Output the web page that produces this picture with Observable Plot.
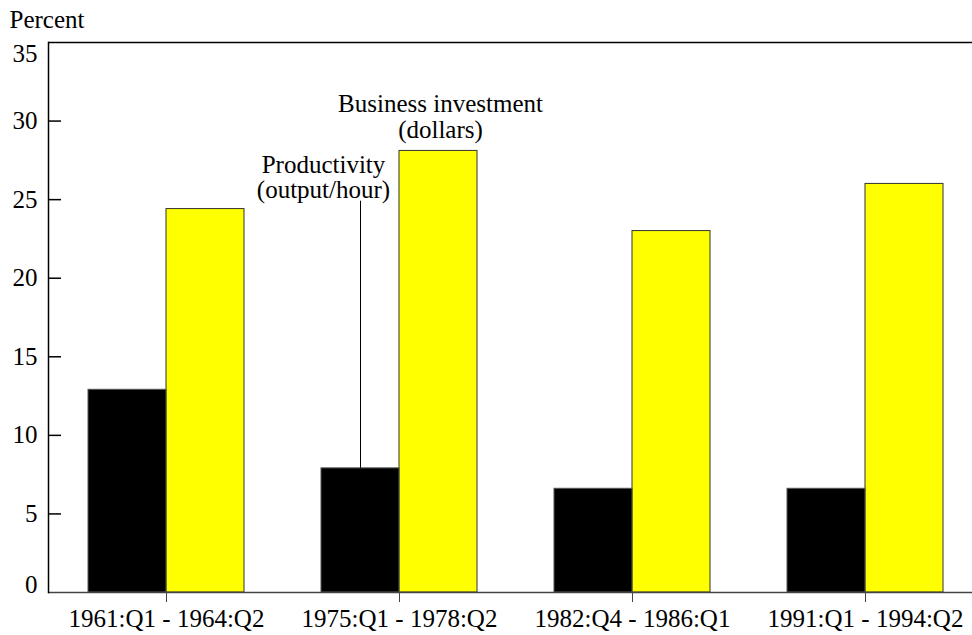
<!DOCTYPE html>
<html>
<head>
<meta charset="utf-8">
<script src="https://cdn.jsdelivr.net/npm/d3@7"></script>
<script src="https://cdn.jsdelivr.net/npm/@observablehq/plot@0.6"></script>
<style>
  html, body { margin: 0; padding: 0; background: #fff; }
  #chart svg { display: block; }
</style>
</head>
<body>
<div id="chart"></div>
<script>
const periods = ["1961:Q1 - 1964:Q2", "1975:Q1 - 1978:Q2", "1982:Q4 - 1986:Q1", "1991:Q1 - 1994:Q2"];
const productivity = [12.9, 7.9, 6.6, 6.6];
const investment = [24.4, 28.1, 23.0, 26.0];
const yTicks = [5, 10, 15, 20, 25, 30];
const yEndTicks = [0, 35];
const annotationProductivity = "Productivity\n(output/hour)";
const annotationInvestment = "Business investment\n(dollars)";
const productivityLabelY = 24.9;

const rows = periods.map((p, i) => ({period: p, productivity: productivity[i], investment: investment[i]}));

const font = "'Liberation Serif', 'Times New Roman', serif";
const halfGroup = 78;

const chart = Plot.plot({
  width: 972,
  height: 635,
  marginLeft: 48,
  marginRight: 0,
  marginTop: 42,
  marginBottom: 43,
  style: {fontFamily: font, fontSize: "25px", color: "#000", background: "#fff"},
  x: {domain: periods, range: [48, 983], paddingInner: 0.332, paddingOuter: 0.166, align: 0.5},
  y: {domain: [0, 35]},
  marks: [
    Plot.barY(rows, {x: "period", y: "investment", fill: "#ffff00", stroke: "#333", strokeWidth: 1, insetLeft: halfGroup}),
    Plot.barY(rows, {x: "period", y: "productivity", fill: "#000", stroke: "#555", strokeWidth: 1, insetRight: halfGroup}),
    Plot.ruleY([0], {stroke: "#444", strokeWidth: 1.5}),
    Plot.ruleY([35], {stroke: "#000", strokeWidth: 1.5}),
    Plot.frame({anchor: "left", stroke: "#000", strokeWidth: 1.5}),
    Plot.axisY({ticks: yTicks, tickSize: -13, tickPadding: 24, stroke: "#000", strokeWidth: 1.5, label: null, fontSize: 25, fill: "#000"}),
    Plot.axisY({ticks: [yEndTicks[0]], tickSize: 0, tickPadding: 11, dy: -8, label: null, fontSize: 25, fill: "#000"}),
    Plot.axisY({ticks: [yEndTicks[1]], tickSize: 0, tickPadding: 11, dy: 11, label: null, fontSize: 25, fill: "#000"}),
    Plot.axisX({tickSize: 10, tickPadding: 7, stroke: "#444", label: null, fontSize: 25, fill: "#000", style: {wordSpacing: "2px"}}),
    Plot.ruleX([rows[1]], {x: "period", y1: "productivity", y2: () => productivityLabelY, dx: -halfGroup / 2, stroke: "#000", strokeWidth: 1}),
    Plot.text([rows[1]], {x: "period", y: () => productivityLabelY, text: () => annotationProductivity, dx: -76, dy: -3, lineAnchor: "bottom", textAnchor: "middle", fontSize: 25, lineHeight: 1.0, fill: "#000"}),
    Plot.text([rows[1]], {x: "period", y: "investment", text: () => annotationInvestment, dx: halfGroup / 2 + 2, dy: -13, lineAnchor: "bottom", textAnchor: "middle", fontSize: 25, lineHeight: 1.02, fill: "#000", style: {letterSpacing: "0.4px"}}),
    Plot.text(["Percent"], {frameAnchor: "top-left", text: d => d, dx: -39, dy: -15, lineAnchor: "bottom", textAnchor: "start", fontSize: 25, fill: "#000"})
  ]
});
document.getElementById("chart").append(chart);
</script>
</body>
</html>
